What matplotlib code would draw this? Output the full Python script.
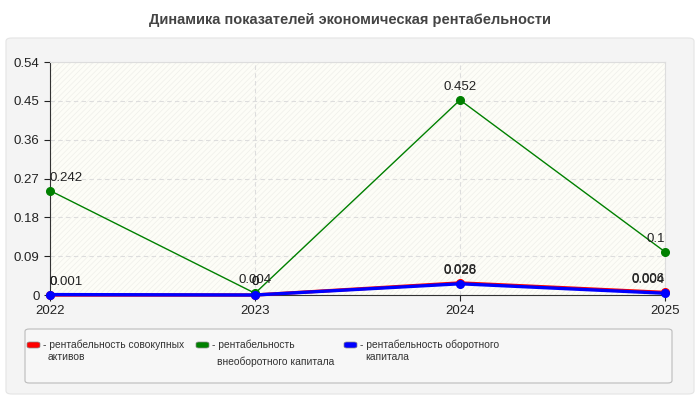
import matplotlib
matplotlib.use("Agg")
import matplotlib.pyplot as plt
from matplotlib.patches import FancyBboxPatch, Rectangle

plt.rcParams['font.family'] = ['Liberation Sans', 'DejaVu Sans']
plt.rcParams['hatch.linewidth'] = 0.5

# data
years = [2022, 2023, 2024, 2025]
assets = [0, 0, 0.028, 0.006]        # рентабельность совокупных активов
noncurrent = [0.242, 0.004, 0.452, 0.1]  # рентабельность внеоборотного капитала
current = [0.001, 0, 0.026, 0.004]   # рентабельность оборотного капитала
yticks = [0, 0.09, 0.18, 0.27, 0.36, 0.45, 0.54]

series = [
    (assets, '#ff0000', 'рентабельность совокупных\nактивов'),
    (noncurrent, '#008000', 'рентабельность\nвнеоборотного капитала'),
    (current, '#0000ff', 'рентабельность оборотного\nкапитала'),
]

fig = plt.figure(figsize=(7, 4), dpi=100)
fig.patch.set_facecolor('white')

# outer grey panel
fig.patches.append(FancyBboxPatch((6 / 700, 6 / 400), 688 / 700, 356 / 400,
                                  boxstyle='round,pad=0,rounding_size=0.008',
                                  transform=fig.transFigure, facecolor='#f4f4f4',
                                  edgecolor='#e4e4e4', linewidth=0.8, zorder=-2))
fig.text(0.5, 1 - 20 / 400, 'Динамика показателей экономическая рентабельности',
         ha='center', va='center', fontsize=10.5, fontweight='bold', color='#444444')

ax = fig.add_axes([50 / 700, 1 - 295 / 400, 615 / 700, 233 / 400], zorder=2)
ax.set_facecolor('#fdfdf7')
ax.add_patch(Rectangle((0, 0), 1, 1, transform=ax.transAxes, facecolor='none',
                       edgecolor='#efefea', hatch='//////', linewidth=0, zorder=0))

ax.set_xlim(years[0], years[-1])
ax.set_ylim(0, 0.54)
ax.set_yticks(yticks)
ax.set_yticklabels(['0' if v == 0 else f'{v:g}' for v in yticks])
ax.set_xticks(years)
ax.tick_params(labelsize=9.5, colors='#222222', length=4, width=0.8)
for s in ['top', 'right']:
    ax.spines[s].set_color('#dddddd')
for s in ['left', 'bottom']:
    ax.spines[s].set_color('#333333')
ax.grid(True, linestyle=(0, (4, 3)), color='#dddddd', linewidth=0.8)
ax.set_axisbelow(True)

for vals, col, name in series:
    lw = 1.0 if col == '#008000' else 2.4
    ax.plot(years, vals, color=col, linewidth=lw, marker='o', markersize=5.5,
            zorder=3, clip_on=False)
    for i, (x, y) in enumerate(zip(years, vals)):
        ha = 'left' if i == 0 else ('right' if i == len(years) - 1 else 'center')
        ax.annotate(f'{y:g}', (x, y), xytext=(0, 5), textcoords='offset points',
                    ha=ha, va='bottom', fontsize=9.5, color='#222222', zorder=4)

# legend box
fig.patches.append(FancyBboxPatch((25 / 700, 1 - 383 / 400), 647 / 700, 54 / 400,
                                  boxstyle='round,pad=0,rounding_size=0.006',
                                  transform=fig.transFigure, facecolor='#f7f7f7',
                                  edgecolor='#bbbbbb', linewidth=0.8, zorder=-1))
leg_x = [27, 196, 344]
second_y = [357, 362, 357]
for (vals, col, name), lx, sy in zip(series, leg_x, second_y):
    fig.patches.append(FancyBboxPatch((lx / 700, 1 - 348 / 400), 13 / 700, 6 / 400,
                                      boxstyle='round,pad=0,rounding_size=0.004',
                                      transform=fig.transFigure, facecolor=col,
                                      edgecolor='#888888', linewidth=0.5, zorder=0))
    first, second = name.split('\n')
    fig.text((lx + 16) / 700, 1 - 345 / 400, '- ' + first, ha='left', va='center',
             fontsize=7.4, color='#333333')
    fig.text((lx + 21) / 700, 1 - sy / 400, second, ha='left', va='center',
             fontsize=7.4, color='#333333')

fig.savefig('out.png', dpi=100)
